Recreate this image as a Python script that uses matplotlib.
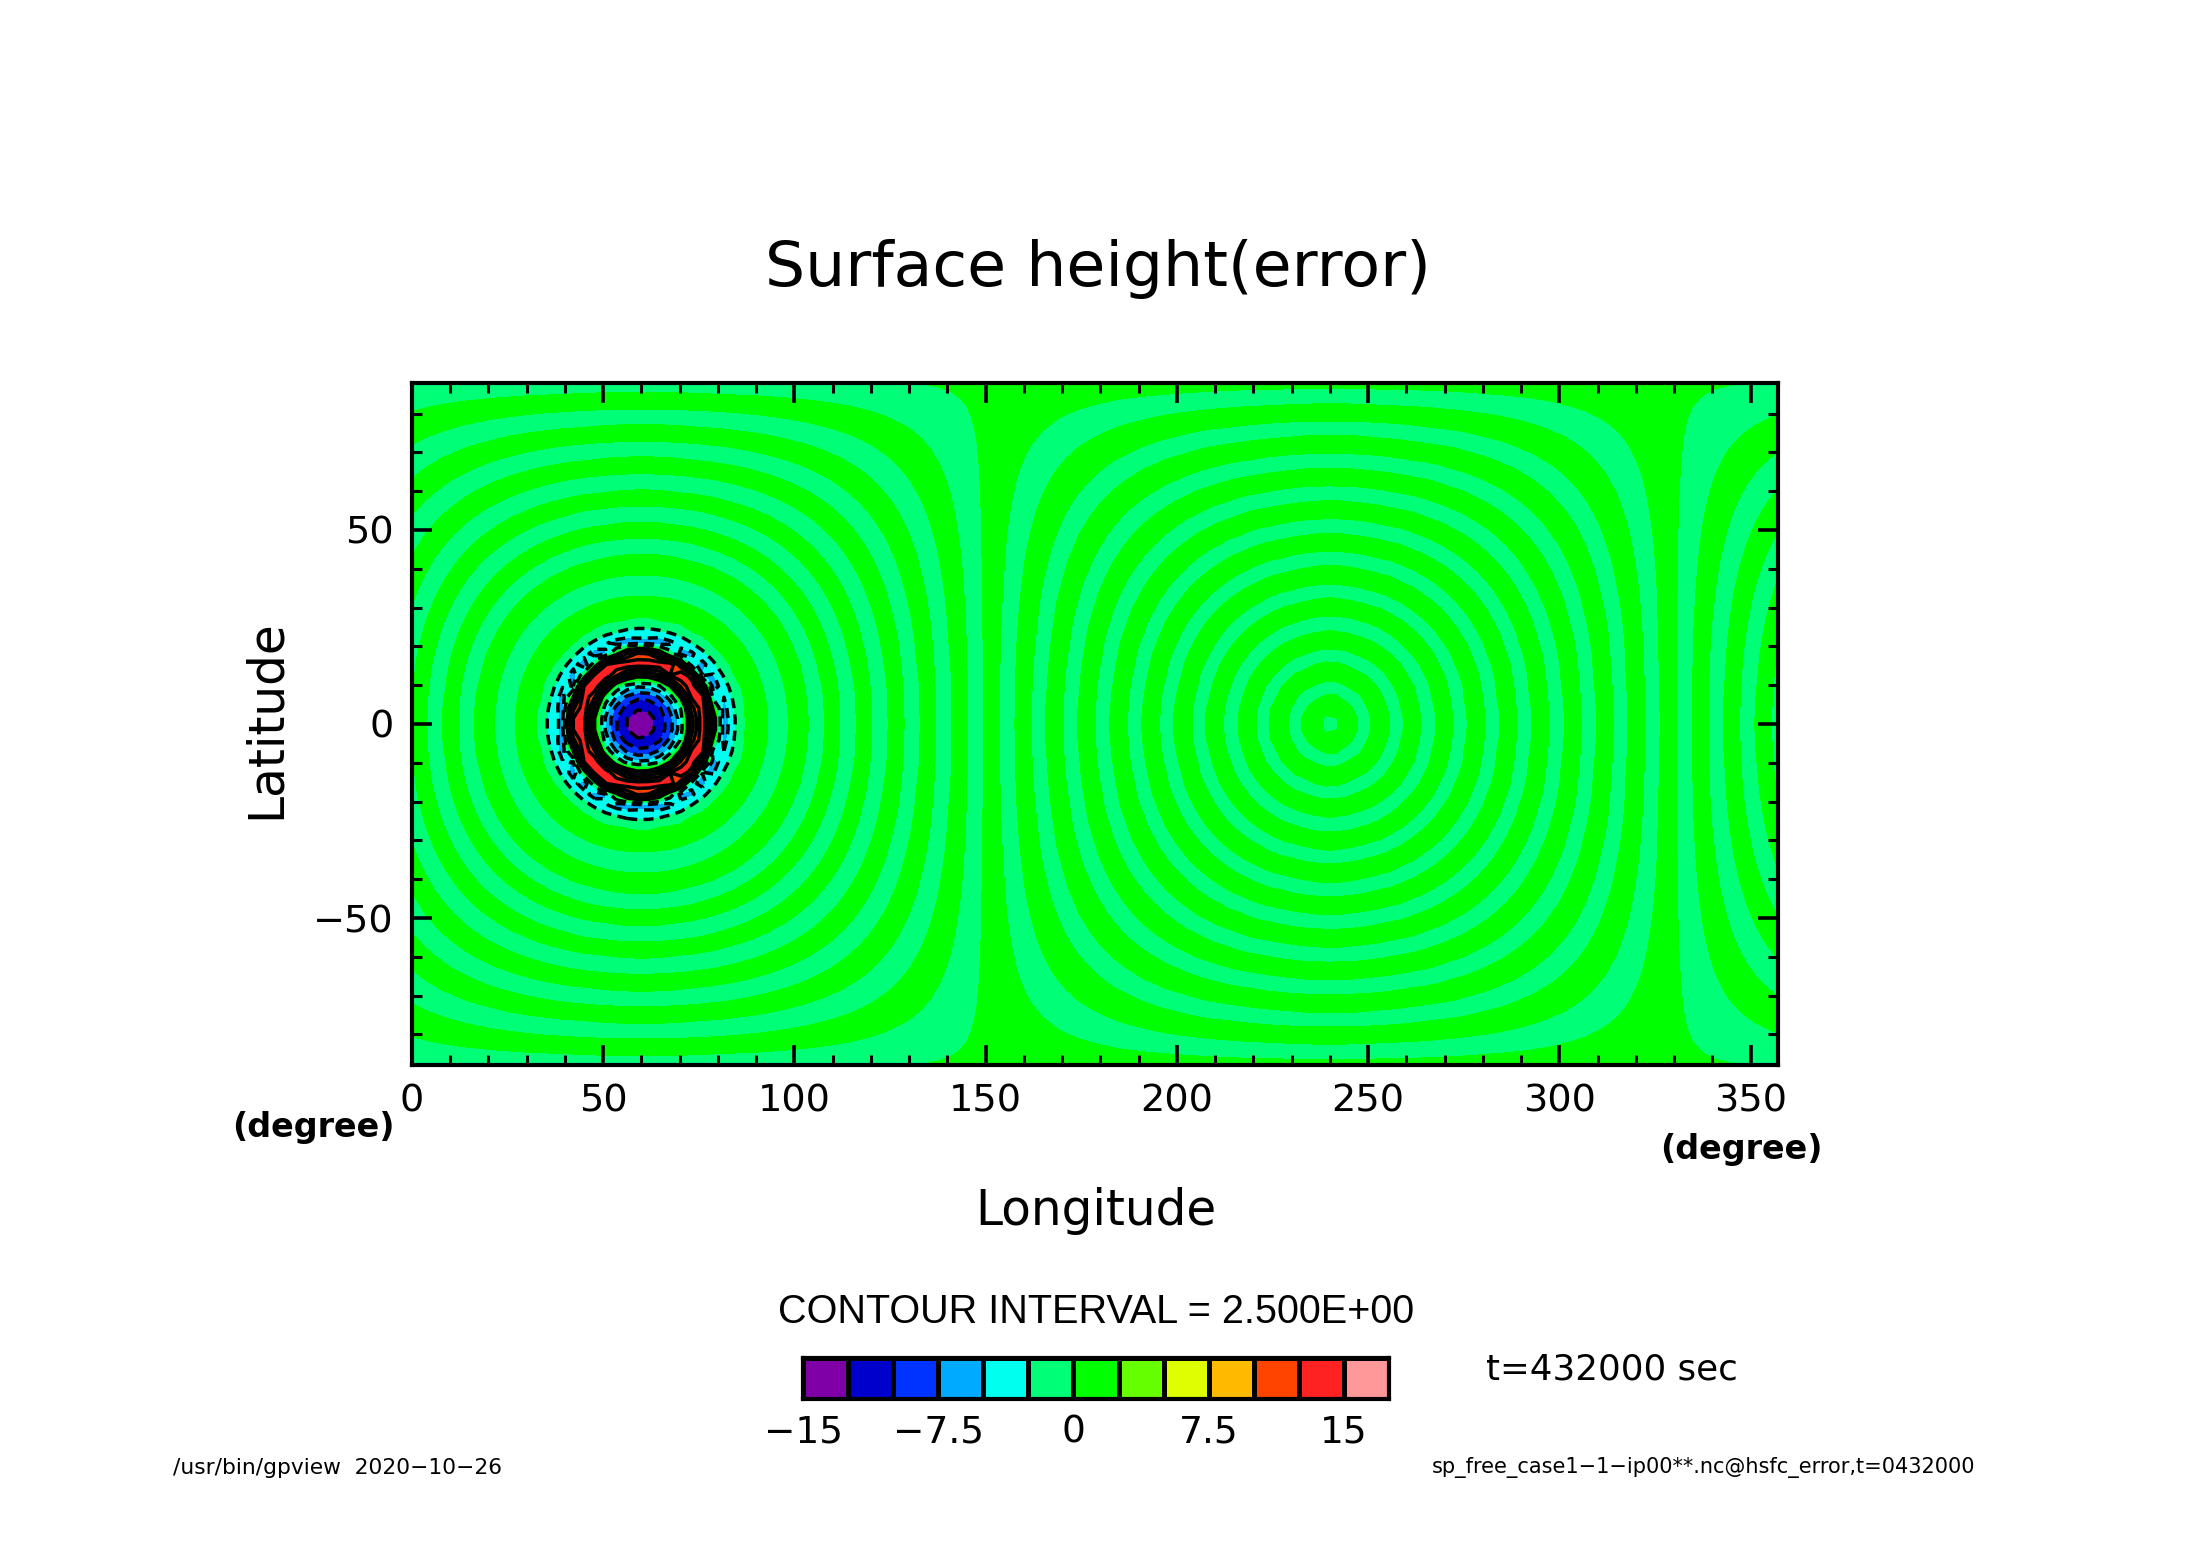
"""Surface height error map, shallow water test case (gpview style)."""
import matplotlib
matplotlib.use('Agg')
import matplotlib.pyplot as plt
from matplotlib.colors import BoundaryNorm, ListedColormap
import numpy as np

W, H = 2188, 1546

# Radial structure of the field, read from the picture along the equator
# (distance from the centre of the disturbance in degrees, height)
core_dist = [0, 4.0, 6.6, 8.2, 9.6, 11.0, 11.9, 12.3, 14.6, 15.5, 17.0, 17.9, 19.4, 20.2, 21.4, 22.6, 24.5]
core_height = [-14.5, -12.5, -10, -7.5, -5, -2.5, 0, 2.5, 12.5, 14.5, 14.5, 12.5, 0, -5, -6.8, -5, -2.5]

# edges between the green and spring green rings
wave_zero = [26.96, 33.07, 38.4, 43.7, 47.9, 51.9, 56.2, 60.2, 64.5, 68.7, 72.8, 77.0,
             81.1, 85.3, 89.3, 93.7, 97.6, 102.1, 105.8, 110.4, 114.2, 118.8, 122.6, 127.3,
             131.0, 135.7, 139.3, 144.2, 147.7, 152.4, 156.1, 160.9, 164.2, 169.3, 172.5, 177.6]
wave_peak = [30.0, 35.7, 41.0, 45.8, 49.9, 54.0, 58.2, 62.3, 66.6, 70.7, 74.9, 79.0,
             83.2, 87.3, 91.5, 95.6, 99.8, 104.0, 108.1, 112.3, 116.5, 120.7, 125.0, 129.1,
             133.4, 137.5, 141.8, 146.0, 150.0, 154.2, 158.5, 162.6, 166.8, 170.9, 175.0, 180.0]
wave_height = [1.2, -1.2] * 18

centre_lon = 60.0

levels = [-15, -12.5, -10, -7.5, -5, -2.5, 0, 2.5, 5, 7.5, 10, 12.5, 15, 17.5]
shades = ['#8000A8', '#0000CC', '#0033FF', '#00AAFF', '#00FFEE', '#00FF77', '#00FF00',
          '#66FF00', '#DDFF00', '#FFBB00', '#FF4400', '#FF2222', '#FF9999']
line_levels = [l for l in levels if l != 0]

xticks_major = [0, 50, 100, 150, 200, 250, 300, 350]
xticks_minor = list(range(0, 360, 10))
yticks_major = [-50, 0, 50]
yticks_minor = list(range(-80, 90, 10))
cbar_ticks = [-15, -7.5, 0, 7.5, 15]
cbar_labels = ['\u221215', '\u22127.5', '0', '7.5', '15']

FONT = 'DejaVu Sans'


def box(left, top, right, bottom):
    """Pixel box to figure fraction"""
    return [left / W, 1 - bottom / H, (right - left) / W, (bottom - top) / H]


def label(fig, x, y, text, size, **kw):
    kw.setdefault('ha', 'center')
    kw.setdefault('family', FONT)
    fig.text(x / W, 1 - y / H, text, fontsize=size, va='center', **kw)


# model grid, T42
lon = np.arange(128) * 2.8125
lat = np.linspace(-87.86, 87.86, 64)
lon2, lat2 = np.meshgrid(lon, lat)
dist = np.degrees(np.arccos(np.clip(
    np.cos(np.radians(lat2)) * np.cos(np.radians(lon2 - centre_lon)), -1, 1)))

ring_dist = np.concatenate([core_dist, wave_zero, wave_peak])
ring_height = np.concatenate([core_height, np.zeros(len(wave_zero)), wave_height])
order = np.argsort(ring_dist)
field = np.interp(dist, ring_dist[order], ring_height[order])

cmap = ListedColormap(shades)
norm = BoundaryNorm(levels, cmap.N)

fig = plt.figure(figsize=(W / 100, H / 100), dpi=100)

ax = fig.add_axes(box(412, 383, 1778, 1065))
ax.contourf(lon, lat, field, levels=levels, cmap=cmap, norm=norm)
ax.contour(lon, lat, field, levels=line_levels, colors='k', linewidths=2.5,
           negative_linestyles=(0, (2.9, 1.8)))
ax.set_xlim(0, lon[-1])
ax.set_ylim(lat[0], lat[-1])
ax.set_xticks(xticks_major)
ax.set_xticks(xticks_minor, minor=True)
ax.set_yticks(yticks_major)
ax.set_yticks(yticks_minor, minor=True)
ax.tick_params(which='major', direction='in', length=14.5, width=2.6, top=True, right=True,
               labelsize=27.5, pad=13)
ax.tick_params(which='minor', direction='in', length=7, width=2.2, top=True, right=True)
for s in ax.spines.values():
    s.set_linewidth(3)

label(fig, 1098, 269, 'Surface height(error)', 45.5)
label(fig, 266, 719, 'Latitude', 35, rotation=90)
label(fig, 1096, 1211, 'Longitude', 35)
label(fig, 313, 1128, '(degree)', 24, fontweight='bold')
label(fig, 1741, 1150, '(degree)', 24, fontweight='bold')
label(fig, 1096, 1312, 'CONTOUR INTERVAL = 2.500E+00', 28.5, family='Liberation Sans')
label(fig, 1612, 1369, 't=432000 sec', 25.7)
label(fig, 173, 1468, '/usr/bin/gpview  2020\u221210\u221226', 15.7, ha='left')
label(fig, 1975, 1468, 'sp_free_case1\u22121\u2212ip00**.nc@hsfc_error,t=0432000', 15, ha='right')

# colour bar
cax = fig.add_axes(box(803, 1358, 1389, 1399))
cax.pcolormesh(levels, [0, 1], np.array(levels[:-1], ndmin=2) + 1.25, cmap=cmap, norm=norm,
               edgecolors='k', linewidth=2.4)
cax.set_xlim(levels[0], levels[-1])
cax.set_ylim(0, 1)
cax.set_yticks([])
cax.set_xticks(cbar_ticks)
cax.set_xticklabels(cbar_labels)
cax.tick_params(axis='x', length=0, labelsize=27, pad=11)
for s in cax.spines.values():
    s.set_linewidth(3)

fig.savefig('out.png', dpi=100)
